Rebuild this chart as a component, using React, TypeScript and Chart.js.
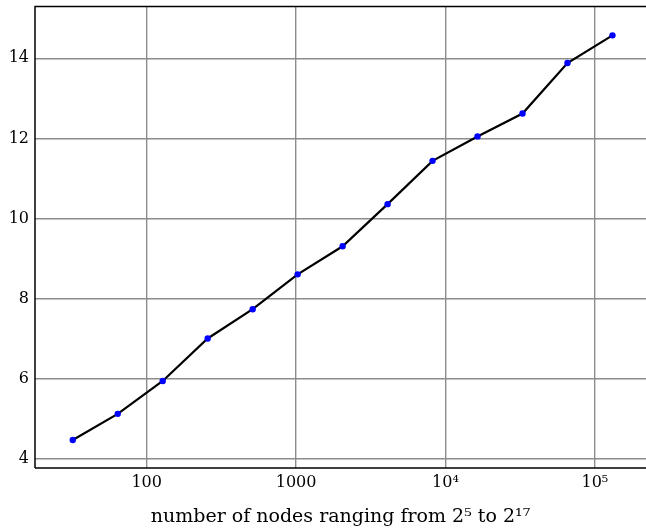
import React, { useEffect, useRef } from "react";
import { Chart, registerables } from "chart.js";

Chart.register(...registerables);

const nodes = [32, 64, 128, 256, 512, 1024, 2048, 4096, 8192, 16384, 32768, 65536, 131072];
const values = [4.48, 5.13, 5.95, 7.01, 7.74, 8.61, 9.31, 10.36, 11.44, 12.05, 12.62, 13.88, 14.57];
const xTicks = [100, 1000, 10000, 100000];
const xTickLabels = ["100", "1000", "10\u2074", "10\u2075"];
const yTicks = [4, 6, 8, 10, 12, 14];
const xTitle = "number of nodes ranging from 2\u2075 to 2\u00B9\u2077";

const FONT = "'DejaVu Serif', 'Liberation Serif', serif";

const framePlugin = {
  id: "frame",
  afterDraw(chart: any) {
    const { ctx, chartArea } = chart;
    ctx.save();
    ctx.strokeStyle = "#000";
    ctx.lineWidth = 1.5;
    ctx.beginPath();
    ctx.moveTo(chartArea.left, chartArea.bottom);
    ctx.lineTo(chartArea.left, chartArea.top);
    ctx.lineTo(chartArea.right, chartArea.top);
    ctx.moveTo(chartArea.left, chartArea.bottom);
    ctx.lineTo(chartArea.right, chartArea.bottom);
    ctx.stroke();
    ctx.restore();
  },
};

export default function App() {
  const ref = useRef<HTMLCanvasElement>(null);
  useEffect(() => {
    document.body.style.margin = "0";
    const chart = new Chart(ref.current!, {
      type: "line",
      data: {
        datasets: [
          {
            data: nodes.map((n, i) => ({ x: n, y: values[i] })),
            borderColor: "#000",
            borderWidth: 2.2,
            pointBackgroundColor: "#0000ff",
            pointBorderColor: "#0000ff",
            pointRadius: 3.2,
            pointBorderWidth: 0,
            tension: 0,
          },
        ],
      },
      options: {
        animation: false,
        responsive: false,
        maintainAspectRatio: false,
        layout: { autoPadding: false, padding: { top: 6.5, right: 0, left: 0, bottom: 0 } },
        plugins: { legend: { display: false }, tooltip: { enabled: false } },
        scales: {
          x: {
            type: "logarithmic",
            min: 17.88,
            max: 219800,
            afterBuildTicks: (axis: any) => {
              axis.ticks = xTicks.map((v) => ({ value: v }));
            },
            afterFit: (axis: any) => {
              axis.height = 60;
              axis.paddingLeft = 0;
              axis.paddingRight = 0;
            },
            ticks: {
              autoSkip: false,
              maxRotation: 0,
              padding: 5,
              color: "#000",
              font: { family: FONT, size: 16 },
              callback: (v: any) => {
                const i = xTicks.indexOf(Number(v));
                return i >= 0 ? xTickLabels[i] : "";
              },
            },
            grid: { color: "rgb(140,140,140)", lineWidth: 1.4, drawTicks: false },
            border: { display: false },
            title: {
              display: true,
              text: xTitle,
              color: "#000",
              font: { family: FONT, size: 19 },
              padding: { top: 3, bottom: 0 },
            },
          },
          y: {
            type: "linear",
            min: 3.78,
            max: 15.29,
            afterBuildTicks: (axis: any) => {
              axis.ticks = yTicks.map((v) => ({ value: v }));
            },
            afterFit: (axis: any) => {
              axis.width = 35;
              axis.paddingTop = 0;
              axis.paddingBottom = 0;
            },
            ticks: {
              padding: 6,
              color: "#000",
              font: { family: FONT, size: 16 },
            },
            grid: { color: "rgb(140,140,140)", lineWidth: 1.4, drawTicks: false },
            border: { display: false },
          },
        },
      },
      plugins: [framePlugin],
    } as any);
    return () => chart.destroy();
  }, []);
  return <canvas ref={ref} width={646} height={528} style={{ display: "block" }} />;
}
